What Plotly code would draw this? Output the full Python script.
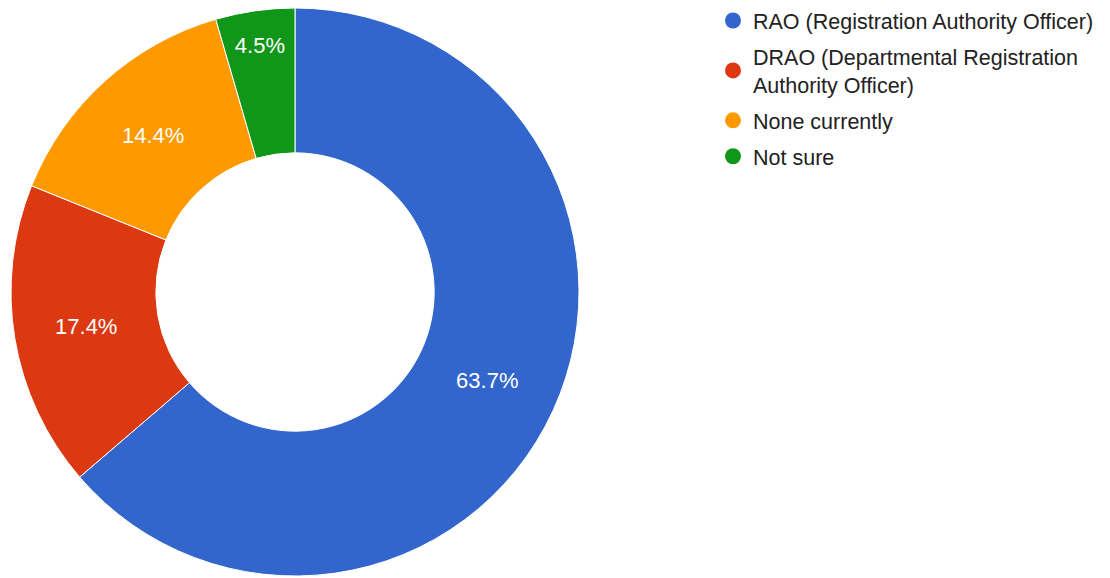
import plotly.graph_objects as go

labels = ["RAO (Registration Authority Officer)",
          "DRAO (Departmental Registration<br>Authority Officer)",
          "None currently",
          "Not sure"]
values = [63.7, 17.4, 14.4, 4.5]
colors = ["#3366CC", "#DC3912", "#FF9900", "#109618"]

W, H = 1110, 578
OFF = 8  # page body margin
cx, cy, r = 295 - OFF, 292 - OFF, 284
FONT = "Liberation Sans, Arial, sans-serif"

dy0 = max(0.0, (H - cy - r) / H)
dy1 = min(1.0, (H - cy + r) / H)

fig = go.Figure()
fig.add_trace(go.Pie(
    labels=labels, values=values, sort=False, direction="clockwise", rotation=0,
    hole=0.49,
    marker=dict(colors=colors, line=dict(color="white", width=1)),
    textinfo="percent", textposition="inside", insidetextorientation="horizontal",
    textfont=dict(color="white", size=22, family=FONT),
    showlegend=False, hoverinfo="label+percent",
    domain=dict(x=[(cx - r) / W, (cx + r) / W], y=[dy0, dy1]),
))
for i, (lab, col) in enumerate(zip(labels, colors)):
    fig.add_trace(go.Scatter(x=[None], y=[None], mode="markers", name=lab,
                             legendgroup=f"g{i}",
                             marker=dict(color=col, size=18, symbol="circle"),
                             showlegend=True))

fig.update_layout(
    width=W, height=H, margin=dict(l=0, r=0, t=0, b=0, autoexpand=False),
    paper_bgcolor="white", plot_bgcolor="white",
    xaxis=dict(visible=False), yaxis=dict(visible=False),
    legend=dict(x=(733 - OFF - 20) / W, y=1 + 8 / H, xanchor="left", yanchor="top",
                font=dict(size=21.5, color="#222222", family=FONT),
                bgcolor="rgba(0,0,0,0)", tracegroupgap=5, itemwidth=30),
    font=dict(family=FONT),
)
fig.write_html("out.html")
